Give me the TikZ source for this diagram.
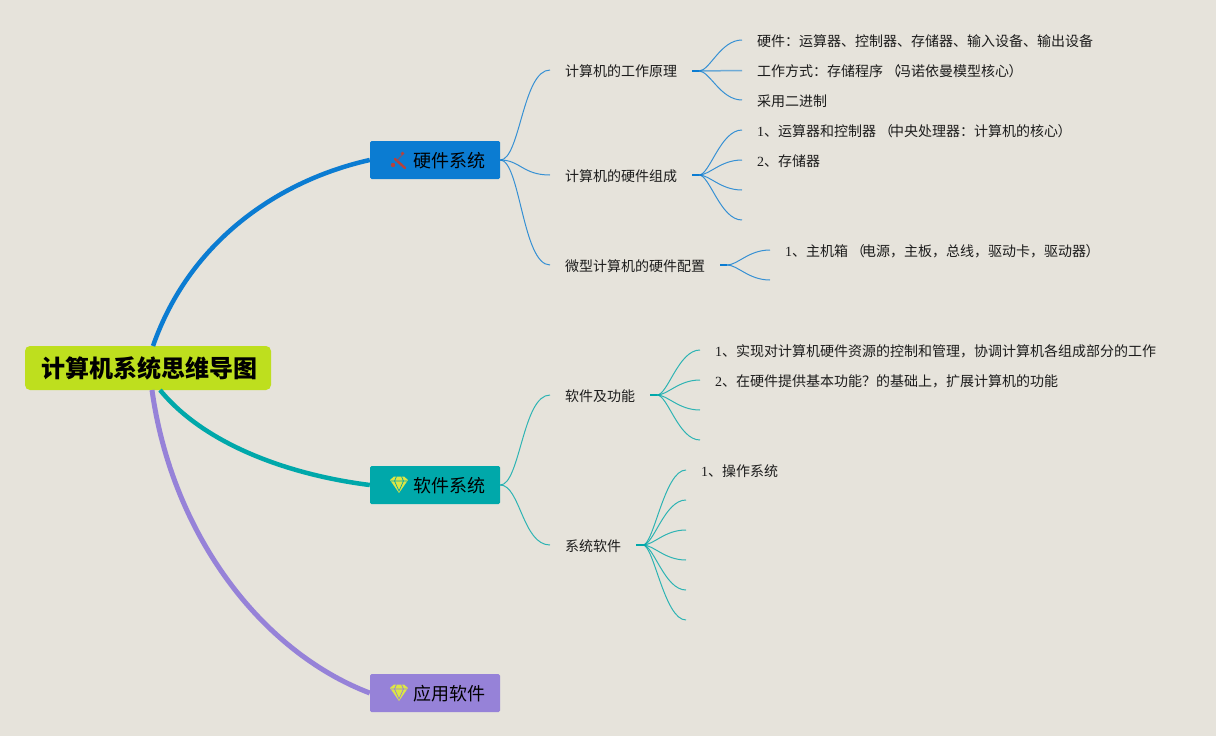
\documentclass[tikz,border=0pt]{standalone}
\usepackage{fontspec}
\usetikzlibrary{calc}
\newfontfamily\cjk{Noto Sans CJK SC}
\newfontfamily\lat{Liberation Serif}
\newcommand\lpn{\makebox[14pt][l]{\hspace{2.6pt}（}}
\newcommand\rpn{\makebox[14pt][l]{\hspace{-0.5pt}）}}
\definecolor{bgc}{HTML}{E6E3DB}
\definecolor{rootc}{HTML}{BEDF1E}
\definecolor{bluec}{HTML}{0B7CD2}
\definecolor{tealc}{HTML}{00A8AA}
\definecolor{purpc}{HTML}{9682D8}
\definecolor{inkc}{HTML}{1C1C1C}
\definecolor{toolc}{HTML}{B8413A}
\definecolor{gemc}{HTML}{DDE545}
\tikzset{
  rootbox/.style={fill=rootc,rounded corners=5pt,minimum width=246pt,minimum height=44pt,inner sep=0pt,font=\cjk\bfseries\fontsize{24}{24}\selectfont,text=black},
  branchbox/.style={rounded corners=1.5pt,minimum width=130pt,minimum height=38pt,inner sep=0pt},
  branchtext/.style={inner sep=0pt,anchor=west,font=\cjk\fontsize{18}{18}\selectfont,text=black},
  leaf/.style={inner sep=0pt,anchor=west,font=\cjk\fontsize{14}{14}\selectfont,text=inkc},
  thinline/.style={line width=1pt,opacity=.8},
  stub/.style={line width=2pt},
  fan/.style={to path={.. controls ($(\tikztostart)!.25!(\tikztotarget |- \tikztostart)$) and ($(\tikztotarget)!.5!(\tikztostart |- \tikztotarget)$) .. (\tikztotarget)}},
  fanb/.style={to path={.. controls ($(\tikztostart)!.4!(\tikztotarget |- \tikztostart)$) and ($(\tikztotarget)!.55!(\tikztostart |- \tikztotarget)$) .. (\tikztotarget)}}
}
\begin{document}
\begin{tikzpicture}[x=1pt,y=-1pt]
\useasboundingbox (0,0) rectangle (1216,736);
\fill[bgc] (0,0) rectangle (1216,736);
% nodes
\node[rootbox] (root) at (148,368) {\hspace{2pt}计算机系统思维导图};
\node[branchbox,fill=bluec] (hw) at (435,160) {};
\node[branchbox,fill=tealc] (sw) at (435,485) {};
\node[branchbox,fill=purpc] (app) at (435,693) {};
\node[branchtext] (hwt) at (413,161) {硬件系统};
\node[branchtext] (swt) at (413,486) {软件系统};
\node[branchtext] (appt) at (413,694) {应用软件};
% level 2
\node[leaf] (a) at (565,71) {计算机的工作原理};
\node[leaf] (b) at (565,176) {计算机的硬件组成};
\node[leaf] (c) at (565,266) {微型计算机的硬件配置};
\node[leaf] (d) at (565,396) {软件及功能};
\node[leaf] (e) at (565,546) {系统软件};
% level 3
\node[leaf] (a1) at (757,41) {硬件：运算器、控制器、存储器、输入设备、输出设备};
\node[leaf] (a2) at (757,71) {工作方式：存储程序\lpn 冯诺依曼模型核心\rpn};
\node[leaf] (a3) at (757,101) {采用二进制};
\node[leaf] (b1) at (757,131) {{\lat 1}、运算器和控制器\lpn 中央处理器：计算机的核心\rpn};
\node[leaf] (b2) at (757,161) {{\lat 2}、存储器};
\node[leaf] (c1) at (785,251) {{\lat 1}、主机箱\lpn 电源，主板，总线，驱动卡，驱动器\rpn};
\node[leaf] (d1) at (715,351) {{\lat 1}、实现对计算机硬件资源的控制和管理，协调计算机各组成部分的工作};
\node[leaf] (d2) at (715,381) {{\lat 2}、在硬件提供基本功能？的基础上，扩展计算机的功能};
\node[leaf] (e1) at (701,471) {{\lat 1}、操作系统};
% coordinates
\coordinate (rb) at (153,346);
\coordinate (rt) at (160,390);
\coordinate (rp) at (152,390);
\coordinate (ai) at (550,70); \coordinate (bi) at (550,175); \coordinate (ci) at (550,265);
\coordinate (di) at (550,395); \coordinate (ei) at (550,545);
\coordinate (ao) at (692,71); \coordinate (as) at (699,71);
\coordinate (bo) at (692,175); \coordinate (bs) at (699,175);
\coordinate (co) at (720,265); \coordinate (cs) at (727,265);
\coordinate (do) at (650,395); \coordinate (ds) at (657,395);
\coordinate (eo) at (636,545); \coordinate (es) at (643,545);
\coordinate (a1i) at (742,40); \coordinate (a2i) at (742,70.5); \coordinate (a3i) at (742,100);
\coordinate (b1i) at (742,130); \coordinate (b2i) at (742,160); \coordinate (b3i) at (742,190); \coordinate (b4i) at (742,220);
\coordinate (c1i) at (770,250); \coordinate (c2i) at (770,280);
\coordinate (d1i) at (700,350); \coordinate (d2i) at (700,380); \coordinate (d3i) at (700,410); \coordinate (d4i) at (700,440);
\coordinate (e1i) at (686,470); \coordinate (e2i) at (686,500); \coordinate (e3i) at (686,530);
\coordinate (e4i) at (686,560); \coordinate (e5i) at (686,590); \coordinate (e6i) at (686,620);
% main branches
\draw[line width=4.5pt,bluec] (rb) .. controls (190,240) and (280,180) .. (hw.west);
\draw[line width=4.5pt,tealc] (rt) .. controls (205,445) and (290,475) .. (sw.west);
\draw[line width=5pt,purpc] (rp) .. controls (172,535) and (262,652) .. (app.west);
% level 2 connectors
\draw[thinline,bluec] (hw.east) to[fanb] (ai);
\draw[thinline,bluec] (hw.east) to[fanb] (bi);
\draw[thinline,bluec] (hw.east) to[fanb] (ci);
\draw[thinline,tealc] (sw.east) to[fanb] (di);
\draw[thinline,tealc] (sw.east) to[fanb] (ei);
% level 3 connectors
\draw[stub,bluec] (ao) -- (as);
\draw[stub,bluec] (bo) -- (bs);
\draw[stub,bluec] (co) -- (cs);
\draw[stub,tealc] (do) -- (ds);
\draw[stub,tealc] (eo) -- (es);
\foreach \t in {a1i,a3i} \draw[thinline,bluec] (as) to[fan] (\t);
\draw[line width=1.5pt,bluec,opacity=.55] (as) -- (a2i);
\foreach \t in {b1i,b2i,b3i,b4i} \draw[thinline,bluec] (bs) to[fan] (\t);
\foreach \t in {c1i,c2i} \draw[thinline,bluec] (cs) to[fan] (\t);
\foreach \t in {d1i,d2i,d3i,d4i} \draw[thinline,tealc] (ds) to[fan] (\t);
\foreach \t in {e1i,e2i,e3i,e4i,e5i,e6i} \draw[thinline,tealc] (es) to[fan] (\t);
% icon: tools
\draw[line width=2.4pt,toolc,line cap=round] (395,159) -- (405,168);
\draw[line width=1pt,toolc!70!bluec] (396,162) -- (402,155);
\fill[toolc] (393,165) circle (2.2pt) (402.5,153.5) circle (1.8pt);
% icon: gems
\foreach \cy/\lc in {485/tealc,693/purpc} {
  \fill[gemc] (390,\cy-5) -- (394,\cy-8.5) -- (404,\cy-8.5) -- (408,\cy-5) -- (399,\cy+8) -- cycle;
  \draw[line width=.7pt,\lc] (391,\cy-4) -- (407,\cy-4) (394.5,\cy-4) -- (399,\cy+6) -- (403.5,\cy-4) (396.5,\cy-8.5) -- (394.5,\cy-4) (401.5,\cy-8.5) -- (403.5,\cy-4);
}
\end{tikzpicture}
\end{document}
